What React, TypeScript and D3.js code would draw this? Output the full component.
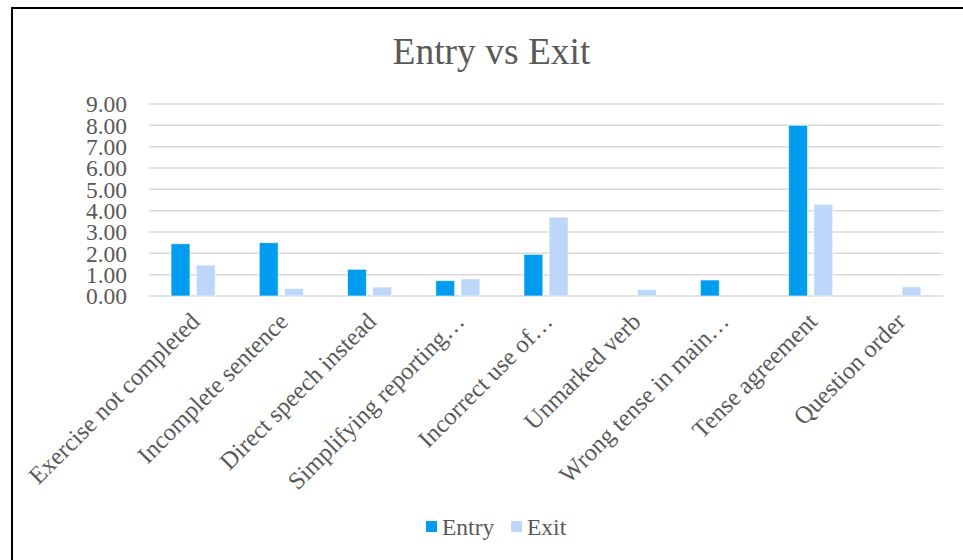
import * as d3 from 'd3'
import { useEffect, useRef } from 'react'

const categories = [
  'Exercise not completed',
  'Incomplete sentence',
  'Direct speech instead',
  'Simplifying reporting…',
  'Incorrect use of…',
  'Unmarked verb',
  'Wrong tense in main…',
  'Tense agreement',
  'Question order'
]
const entryValues = [2.45, 2.5, 1.25, 0.72, 1.95, 0, 0.75, 8.0, 0]
const exitValues = [1.45, 0.35, 0.42, 0.8, 3.7, 0.3, 0, 4.3, 0.43]
const seriesNames = ['Entry', 'Exit']
const yTicks = [0, 1, 2, 3, 4, 5, 6, 7, 8, 9]

const W = 963
const H = 560
const FONT = '"Liberation Serif", "Times New Roman", serif'
const TEXT = '#595959'
const colors = ['#009CF0', '#BDD7FB']

const App = () => {
  const ref = useRef<SVGSVGElement>(null)

  useEffect(() => {
    if (!ref.current) return
    const svg = d3.select(ref.current)
    svg.selectAll('*').remove()

    const left = 149
    const right = 943
    const top = 104
    const bottom = 296

    svg.append('rect')
      .attr('width', W)
      .attr('height', H)
      .attr('fill', '#fff')

    // chart frame (only top and left edges are in view)
    svg.append('path')
      .attr('d', `M12,${H + 5}V8H${W + 5}`)
      .attr('fill', 'none')
      .attr('stroke', '#000')
      .attr('stroke-width', 2)

    svg.append('text')
      .attr('x', 491.5)
      .attr('y', 64)
      .attr('text-anchor', 'middle')
      .style('font-family', FONT)
      .style('font-size', '37.5px')
      .style('fill', TEXT)
      .text('Entry vs Exit')

    const x = d3.scaleBand<string>()
      .domain(categories)
      .range([left, right])
      .paddingInner(0.5)
      .paddingOuter(0.25)

    const xSub = d3.scaleBand<string>()
      .domain(seriesNames)
      .range([0, x.bandwidth()])
      .paddingInner(0.25)

    const y = d3.scaleLinear().domain([0, 9]).range([bottom, top])

    // gridlines
    svg.append('g')
      .selectAll('line')
      .data(yTicks)
      .join('line')
      .attr('x1', left)
      .attr('x2', right)
      .attr('y1', d => y(d))
      .attr('y2', d => y(d))
      .attr('stroke', '#D9D9D9')
      .attr('stroke-width', 1.5)

    // y tick labels
    svg.append('g')
      .selectAll('text')
      .data(yTicks)
      .join('text')
      .attr('x', 127)
      .attr('y', d => y(d))
      .attr('dy', '0.35em')
      .attr('text-anchor', 'end')
      .style('font-family', FONT)
      .style('font-size', '23.5px')
      .style('fill', TEXT)
      .text(d => d.toFixed(2))

    const series = [entryValues, exitValues]
    series.forEach((vals, si) => {
      const bars = vals
        .map((v, i) => ({ cat: categories[i], v }))
        .filter(d => d.v > 0)
      svg.append('g')
        .selectAll('rect')
        .data(bars)
        .join('rect')
        .attr('x', d => x(d.cat)! + xSub(seriesNames[si])!)
        .attr('y', d => y(d.v))
        .attr('width', xSub.bandwidth())
        .attr('height', d => bottom - y(d.v))
        .attr('fill', colors[si])
        .attr('stroke', '#fff')
        .attr('stroke-opacity', 0.6)
        .attr('stroke-width', 1)
    })

    // category labels, rotated
    svg.append('g')
      .selectAll('text')
      .data(categories)
      .join('text')
      .attr('transform', d => `translate(${x(d)! + x.bandwidth() / 2 + 8},${323}) rotate(-45)`)
      .attr('text-anchor', 'end')
      .style('font-family', FONT)
      .style('font-size', '24.5px')
      .style('fill', TEXT)
      .text(d => d)

    // legend
    const legendX = [426, 511]
    seriesNames.forEach((name, i) => {
      svg.append('rect')
        .attr('x', legendX[i])
        .attr('y', 521)
        .attr('width', 11)
        .attr('height', 11)
        .attr('fill', colors[i])
      svg.append('text')
        .attr('x', legendX[i] + 16)
        .attr('y', 535)
        .style('font-family', FONT)
        .style('font-size', '23.5px')
        .style('fill', TEXT)
        .text(name)
    })
  }, [])

  return (
    <svg
      ref={ref}
      width={W}
      height={H}
      style={{ position: 'absolute', left: 0, top: 0, display: 'block' }}
    />
  )
}

export default App
